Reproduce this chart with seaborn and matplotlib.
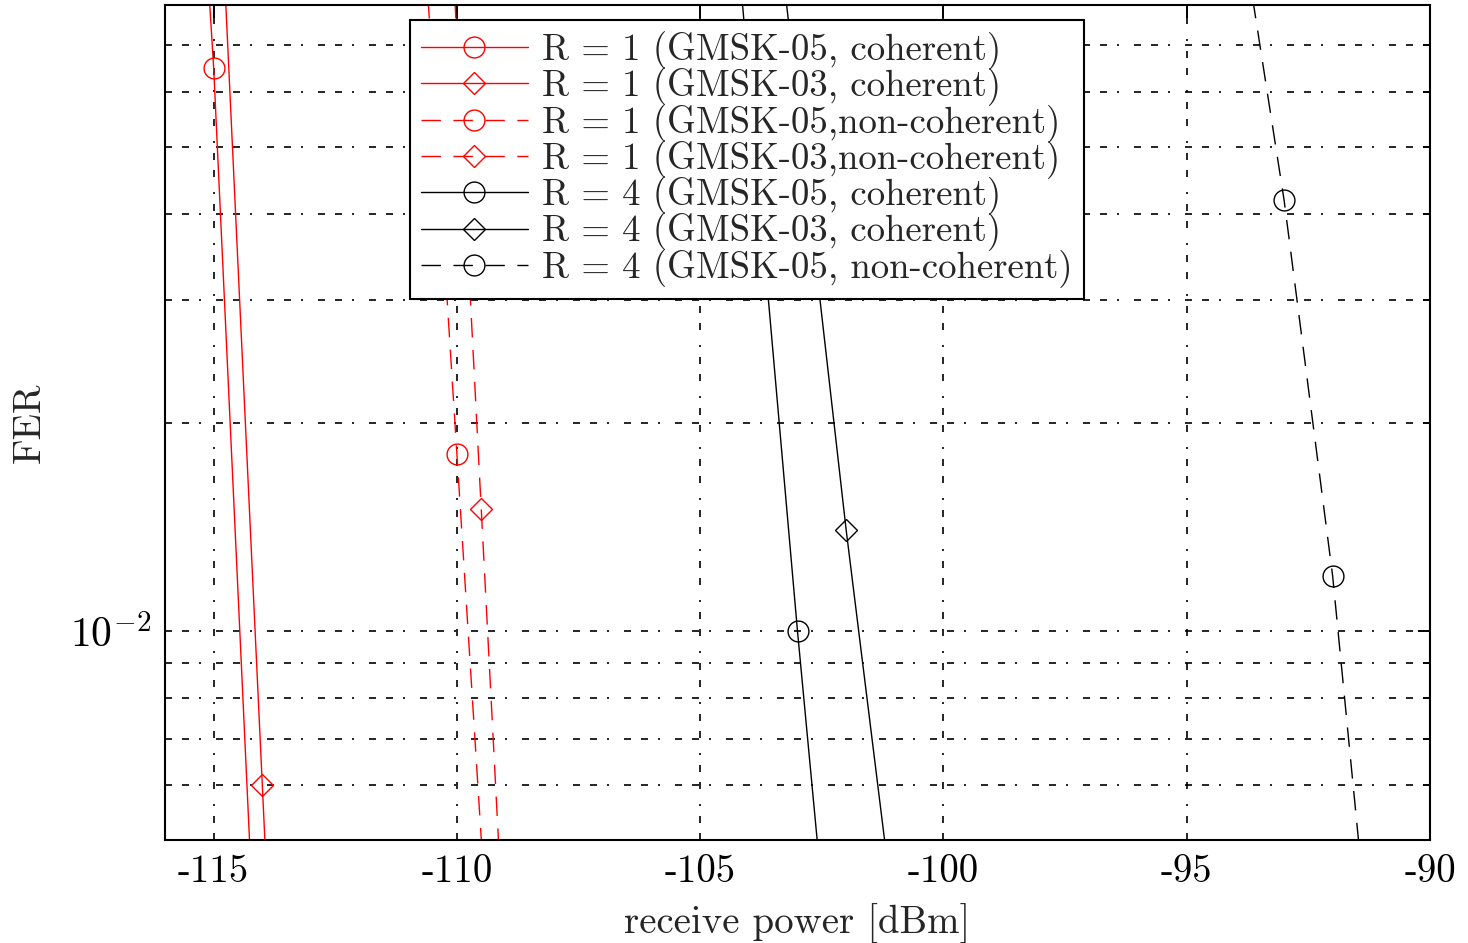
import numpy as np
import pandas as pd
import seaborn as sns
import matplotlib.pyplot as plt
from matplotlib.ticker import FixedLocator, FuncFormatter, NullFormatter

# FER vs receive power
# R = 1
x_r1_g05_coh = [-116, -115, -114]
fer_r1_g05_coh = [0.87, 0.065, 0.002]
x_r1_g03_coh = [-115, -114, -113]
fer_r1_g03_coh = [0.19, 0.006, 0.00019]
x_r1_g05_nc = [-111, -110, -109]
fer_r1_g05_nc = [0.23, 0.018, 0.0014]
x_r1_g03_nc = [-110.5, -109.5, -108.5]
fer_r1_g03_nc = [0.34, 0.015, 0.00067]
# R = 4
x_r4_g05_coh = [-105, -104, -103, -102]
fer_r4_g05_coh = [0.4, 0.063, 0.01, 0.0018]
x_r4_g03_coh = [-104, -103, -102, -101]
fer_r4_g03_coh = [0.245, 0.058, 0.014, 0.0038]
x_r4_g05_nc = [-94, -93, -92, -91]
fer_r4_g05_nc = [0.118, 0.0419, 0.012, 0.0023]

labels = [
    "R = 1 (GMSK-05, coherent)",
    "R = 1 (GMSK-03, coherent)",
    "R = 1 (GMSK-05,non-coherent)",
    "R = 1 (GMSK-03,non-coherent)",
    "R = 4 (GMSK-05, coherent)",
    "R = 4 (GMSK-03, coherent)",
    "R = 4 (GMSK-05, non-coherent)",
]
x_ticks = [-115, -110, -105, -100, -95, -90]

sns.set_style("white")
plt.rcParams["font.family"] = ["cmr10", "DejaVu Serif"]
plt.rcParams["mathtext.fontset"] = "cm"
plt.rcParams["axes.unicode_minus"] = False
plt.rcParams["axes.formatter.use_mathtext"] = False

fig = plt.figure(figsize=(14.68, 9.43), dpi=100)
ax = fig.add_axes([165 / 1468, 1 - 840 / 943, 1265 / 1468, 835 / 943])

dash = (0, (14, 9))
series = [
    (x_r1_g05_coh, fer_r1_g05_coh, "red", "-", "o"),
    (x_r1_g03_coh, fer_r1_g03_coh, "red", "-", "D"),
    (x_r1_g05_nc, fer_r1_g05_nc, "red", dash, "o"),
    (x_r1_g03_nc, fer_r1_g03_nc, "red", dash, "D"),
    (x_r4_g05_coh, fer_r4_g05_coh, "black", "-", "o"),
    (x_r4_g03_coh, fer_r4_g03_coh, "black", "-", "D"),
    (x_r4_g05_nc, fer_r4_g05_nc, "black", dash, "o"),
]

for (xs, ys, col, ls, mk), lab in zip(series, labels):
    df = pd.DataFrame({"power": xs, "fer": ys})
    sns.lineplot(data=df, x="power", y="fer", ax=ax, color=col, linestyle=ls,
                 linewidth=1.0, marker=mk, markersize=15 if mk == "o" else 11.5,
                 markerfacecolor="none", markeredgecolor=col, markeredgewidth=1.0,
                 label=lab, sort=False)

ax.set_yscale("log")
ax.set_xlim(-116, -90)
ax.set_ylim(5e-3, 8e-2)

ax.xaxis.set_major_locator(FixedLocator(x_ticks))
ax.yaxis.set_major_locator(FixedLocator([1e-2]))
ax.yaxis.set_minor_locator(FixedLocator([5e-3, 6e-3, 7e-3, 8e-3, 9e-3,
                                         2e-2, 3e-2, 4e-2, 5e-2, 6e-2, 7e-2, 8e-2]))
ax.yaxis.set_major_formatter(FuncFormatter(lambda v, p: r"$10^{%d}$" % round(np.log10(v))))
ax.yaxis.set_minor_formatter(NullFormatter())

grid_ls = (0, (4.2, 6, 4.2, 6, 1.2, 9))
ax.grid(True, which="major", axis="x", color="black", linestyle=grid_ls, linewidth=1.2)
ax.grid(True, which="both", axis="y", color="black", linestyle=grid_ls, linewidth=1.2)
ax.set_axisbelow(True)

ax.tick_params(which="both", direction="in", top=True, right=True, width=1.4,
               labelsize=28, colors="black")
ax.tick_params(axis="y", which="major", labelsize=30)
ax.tick_params(which="major", length=9, pad=10)
ax.tick_params(which="minor", length=5)
for sp in ax.spines.values():
    sp.set_linewidth(1.5)
    sp.set_color("black")

ax.set_xlabel("receive power [dBm]", fontsize=28, labelpad=10)
ax.set_ylabel("FER", fontsize=28, labelpad=16)

leg = ax.legend(loc="upper left", bbox_to_anchor=((410 - 165) / 1265, 1 - 15 / 835),
                borderaxespad=0, fontsize=26.5, frameon=True, fancybox=False,
                framealpha=1, edgecolor="black", handlelength=2.9,
                handletextpad=0.4, labelspacing=-0.07, borderpad=0.3)
leg.get_frame().set_linewidth(1.5)

fig.savefig("out.png", dpi=100)
